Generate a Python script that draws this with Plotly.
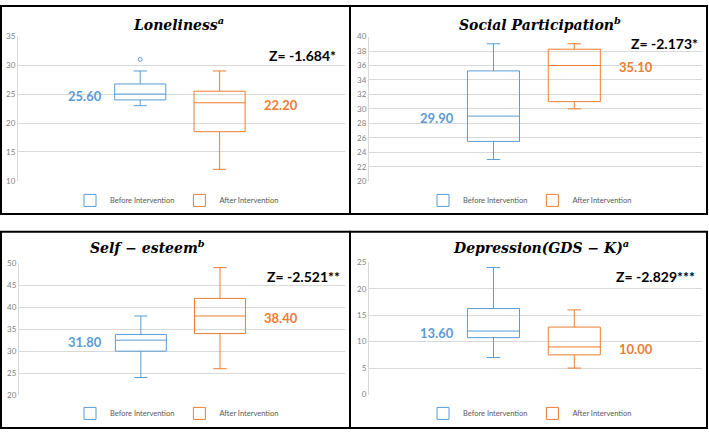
import plotly.graph_objects as go

# ---------------- data ----------------
groups = ["Before Intervention", "After Intervention"]
titles = ["Loneliness", "Social Participation", "Self − esteem", "Depression(GDS − K)"]
title_sups = ["a", "b", "b", "a"]
z_labels = ["Z= -1.684*", "Z= -2.173*", "Z= -2.521**", "Z= -2.829***"]

# per panel: [before, after]
lowerfence = [[23, 12], [23, 30], [24, 26], [7, 5]]
q1 = [[24, 18.5], [25.5, 31], [30, 34], [10.75, 7.5]]
median = [[25, 23.5], [29, 36], [32.5, 38], [12, 9]]
q3 = [[26.75, 25.5], [35.25, 38.25], [33.8, 42], [16.25, 12.75]]
upperfence = [[29, 29], [39, 39], [38, 49], [24, 16]]
means = [[25.60, 22.20], [29.90, 35.10], [31.80, 38.40], [13.60, 10.00]]
outliers_before = [[31], [], [], []]

y_ranges = [[10, 35], [20, 40], [20, 50], [0, 25]]
y_dticks = [5, 2, 5, 5]

# ---------------- style ----------------
W, H = 709, 435
colors = ["#5B9BD5", "#ED7D31"]
BOXGAP = 0.08
GRID = "#D9D9D9"

# plot areas in pixels: (left, right, top, bottom)
areas = [(18, 345, 32, 180), (369, 702, 32.3, 180.3),
         (19, 345, 264.3, 399.3), (369, 702, 263.3, 398.7)]
panels = [(1, 350, 1, 214), (350, 707, 1, 214),
          (1, 350, 232, 433), (350, 707, 232, 433)]
title_pos = [(178, 19), (540, 19), (147, 248), (541, 248)]
z_pos = [(338, 52), (700, 39), (342, 278), (697, 278)]
legend_pos = [(177, 200), (530, 200), (177, 418), (530, 418)]

def px(x):
    return x / W

def py(y):
    return 1 - y / H

fig = go.Figure()
annotations = []
shapes = []
layout = dict(
    width=W, height=H, margin=dict(l=0, r=0, t=0, b=0),
    paper_bgcolor="white", plot_bgcolor="white",
    boxmode="overlay", boxgap=BOXGAP,
    font=dict(family="Lato, Open Sans, sans-serif", color="#595959"),
)

for i in range(4):
    sfx = "" if i == 0 else str(i + 1)
    xa, ya = "x" + sfx, "y" + sfx
    leg = "legend" + sfx
    for g in range(2):
        fig.add_trace(go.Box(
            x=[groups[g]], q1=[q1[i][g]], median=[median[i][g]], q3=[q3[i][g]],
            lowerfence=[lowerfence[i][g]], upperfence=[upperfence[i][g]],
            name=groups[g], xaxis=xa, yaxis=ya, legend=leg,
            line=dict(color=colors[g], width=1), fillcolor="rgba(0,0,0,0)",
            whiskerwidth=0.26, boxpoints=False, hoverinfo="y",
        ))
    if outliers_before[i]:
        fig.add_trace(go.Scatter(
            x=[groups[0]] * len(outliers_before[i]), y=outliers_before[i],
            mode="markers", xaxis=xa, yaxis=ya, showlegend=False,
            marker=dict(symbol="circle-open", size=4, color=colors[0], line=dict(width=1)),
        ))

    l, r, t, b = areas[i]
    layout["xaxis" + sfx] = dict(
        domain=[px(l), px(r)], anchor=ya, type="category",
        categoryorder="array", categoryarray=groups, range=[-1.54, 2.58],
        showticklabels=False, showgrid=False, zeroline=False, showline=False, ticks="",
    )
    layout["yaxis" + sfx] = dict(
        domain=[py(b), py(t)], anchor=xa, range=y_ranges[i], dtick=y_dticks[i],
        showgrid=True, gridcolor=GRID, gridwidth=1, zeroline=False,
        showline=True, linecolor=GRID, linewidth=1, ticks="",
        tickfont=dict(size=8, color="#7F7F7F", family="Lato, sans-serif"),
    )
    lx, ly = legend_pos[i]
    layout[leg] = dict(
        x=px(lx), y=py(ly), xanchor="center", yanchor="middle", orientation="h",
        bgcolor="rgba(0,0,0,0)", font=dict(size=7.5, color="#595959"),
        itemwidth=30,
    )

    # title
    tx, ty = title_pos[i]
    annotations.append(dict(
        text=f"<b><i>{titles[i]}<sup>{title_sups[i]}</sup></i></b>",
        x=px(tx), y=py(ty), xref="paper", yref="paper",
        xanchor="center", yanchor="middle", showarrow=False,
        font=dict(family="DejaVu Serif", size=14, color="black"),
    ))
    # Z statistic
    zx, zy = z_pos[i]
    annotations.append(dict(
        text=f"<b>{z_labels[i]}</b>", x=px(zx), y=py(zy), xref="paper", yref="paper",
        xanchor="right", yanchor="middle", showarrow=False,
        font=dict(family="Lato, sans-serif", size=14, color="black"),
    ))
    # mean labels
    half = (1 - BOXGAP) / 2
    annotations.append(dict(
        text=f"<b>{means[i][0]:.2f}</b>", x=0 - half, y=median[i][0], xref=xa, yref=ya,
        xanchor="right", yanchor="middle", yshift=-2, showarrow=False,
        font=dict(family="Lato, sans-serif", size=13, color=colors[0]),
    ))
    annotations.append(dict(
        text=f"<b>{means[i][1]:.2f}</b>", x=1 + half, y=median[i][1], xref=xa, yref=ya,
        xanchor="left", yanchor="middle", xshift=6, yshift=-2, showarrow=False,
        font=dict(family="Lato, sans-serif", size=13, color=colors[1]),
    ))
    # panel border
    x0, x1, y0, y1 = panels[i]
    shapes.append(dict(type="rect", xref="paper", yref="paper",
                       x0=px(x0), x1=px(x1), y0=py(y1), y1=py(y0),
                       line=dict(color="black", width=2)))

layout["annotations"] = annotations
layout["shapes"] = shapes
fig.update_layout(**layout)
fig.write_html(
    "out.html",
    config={"displayModeBar": False},
    post_script="document.body.style.margin='0';document.body.style.padding='0';",
)
